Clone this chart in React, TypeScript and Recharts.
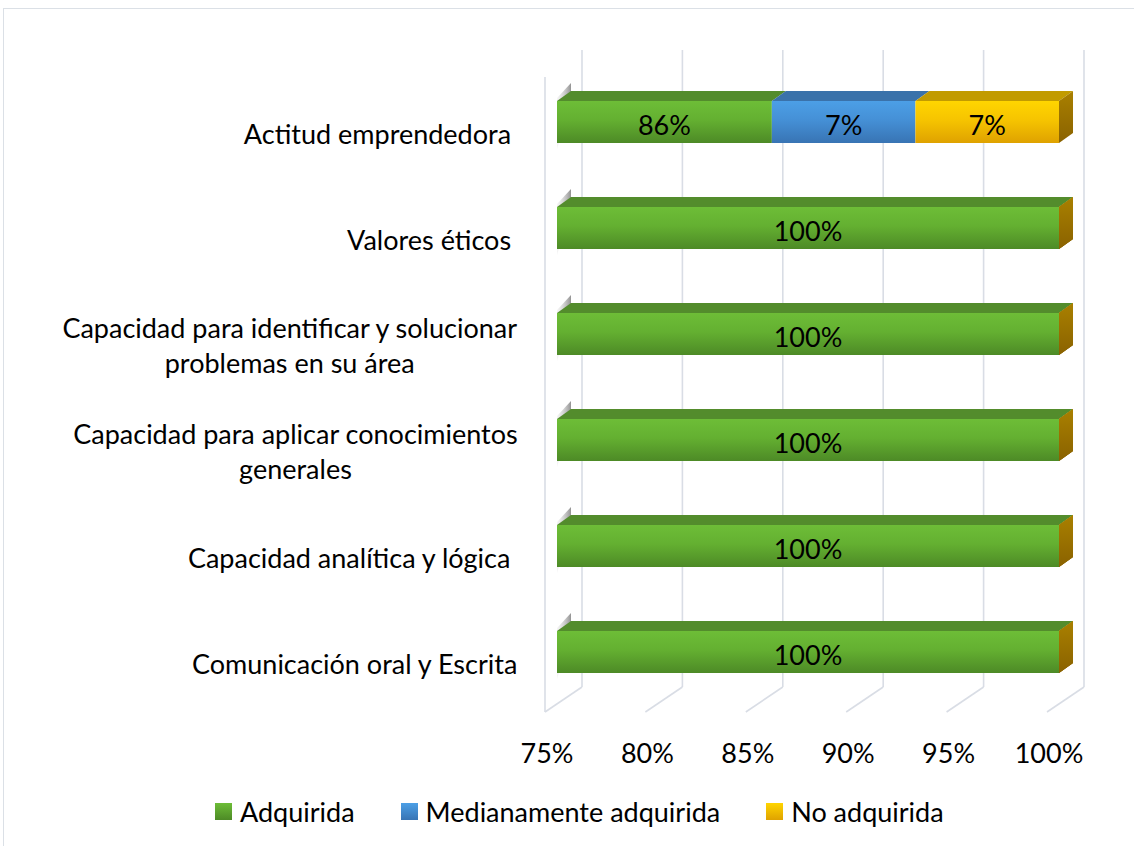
import React from 'react';
import { Bar, BarChart, CartesianGrid, LabelList, Legend, XAxis, YAxis } from 'recharts';

const categories = [
  'Actitud emprendedora ',
  'Valores éticos ',
  'Capacidad para identificar y solucionar\nproblemas en su área',
  'Capacidad para aplicar conocimientos\ngenerales',
  'Capacidad analítica y lógica ',
  'Comunicación oral y Escrita',
];
const adquirida = [0.857, 1, 1, 1, 1, 1];
const medianamente = [0.0715, 0, 0, 0, 0, 0];
const noAdquirida = [0.0715, 0, 0, 0, 0, 0];
const xTicks = [0.75, 0.8, 0.85, 0.9, 0.95, 1];

const series = [
  { key: 'adquirida', name: 'Adquirida', light: '#6dbd37', mid: '#64b031', dark: '#4d8a26', top: '#538c2c' },
  { key: 'medianamente', name: 'Medianamente adquirida', light: '#4c9fe6', mid: '#4590d6', dark: '#3874b4', top: '#3a72aa' },
  { key: 'noAdquirida', name: 'No adquirida', light: '#ffd500', mid: '#f6c400', dark: '#dfa200', top: '#c29b00' },
];

const data = categories.map((name, i) => ({
  name,
  adquirida: adquirida[i],
  medianamente: medianamente[i],
  noAdquirida: noAdquirida[i],
}));

const W = 1134;
const H = 846;
const FONT = 'Lato, "Open Sans", sans-serif';
const FS = 27;
const MARGIN = { top: 69, right: 75, left: 0, bottom: 15 };
const Y_WIDTH = 557;
const PLOT_LEFT = MARGIN.left + Y_WIDTH;
const PLOT_RIGHT = W - MARGIN.right;
const DEPTH_X = 14;
const DEPTH_Y = 10;
const GRID = '#d9dde5';

let ctx: CanvasRenderingContext2D | null = null;
function textWidth(s: string) {
  if (!ctx) ctx = document.createElement('canvas').getContext('2d');
  if (!ctx) return s.length * FS * 0.5;
  ctx.font = `${FS}px Lato`;
  return ctx.measureText(s).width;
}

function CategoryTick(props: any) {
  const { x, y, payload } = props;
  const lines = String(payload.value).split('\n');
  const w = Math.max(...lines.map(textWidth));
  const cx = x - 37 - w / 2;
  return (
    <g>
      {lines.map((line, i) => (
        <text
          key={i}
          x={cx}
          y={y + 11 + (i - (lines.length - 1) / 2) * 35}
          textAnchor="middle"
          dominantBaseline="central"
          fontFamily={FONT}
          fontSize={FS}
          fill="#000"
          style={{ whiteSpace: 'pre' }}
        >
          {line}
        </text>
      ))}
    </g>
  );
}

function PercentTick(props: any) {
  const { x, y, payload } = props;
  return (
    <text x={x - 10} y={y + 45} textAnchor="middle" dominantBaseline="central" fontFamily={FONT} fontSize={FS} fill="#000">
      {Math.round(payload.value * 100)}%
    </text>
  );
}

// back wall line + floor diagonal for every tick, plus the left wall edge
function gridLine(props: any) {
  const { x1, y1, y2, index } = props;
  const bx = x1 + 25;
  const fx = x1 - 12;
  return (
    <g key={`g-${x1}`}>
      <line x1={bx} y1={y1 - 19} x2={bx} y2={y2 - 18} stroke={GRID} strokeWidth={1.6} />
      <line x1={bx} y1={y2 - 18} x2={fx} y2={y2 + 7} stroke={GRID} strokeWidth={1.6} />
      {index === 0 && <line x1={fx} y1={y1 + 8} x2={fx} y2={y2 + 7} stroke={GRID} strokeWidth={1.6} />}
    </g>
  );
}

function Bar3D(props: any) {
  const { x, y, width, height, s } = props;
  const x1 = Math.max(x, PLOT_LEFT);
  const x2 = x + width;
  if (x2 < x1) return null;
  const atEnd = x2 >= PLOT_RIGHT - 0.5;
  const atStart = x <= PLOT_LEFT + 0.5;
  return (
    <g>
      {atStart && x2 > x1 && (
        <polygon
          points={`${x1},${y + height + 6} ${x1},${y - 3} ${x1 + DEPTH_X},${y - DEPTH_Y - 8} ${x1 + DEPTH_X},${y}`}
          fill="url(#shadow3d)"
        />
      )}
      {x2 > x1 && (
        <>
          <polygon
            points={`${x1},${y} ${x1 + DEPTH_X},${y - DEPTH_Y} ${x2 + DEPTH_X},${y - DEPTH_Y} ${x2},${y}`}
            fill={s.top}
          />
          <rect x={x1} y={y} width={x2 - x1} height={height} fill={`url(#front-${s.key})`} />
        </>
      )}
      {atEnd && (
        <polygon
          points={`${x2},${y} ${x2 + DEPTH_X},${y - DEPTH_Y} ${x2 + DEPTH_X},${y + height - DEPTH_Y} ${x2},${y + height}`}
          fill="url(#side3d)"
        />
      )}
    </g>
  );
}

function ValueLabel(props: any) {
  const { x, y, width, height, value } = props;
  if (!value) return null;
  const x1 = Math.max(x, PLOT_LEFT);
  const cx = (x1 + x + width) / 2;
  return (
    <text x={cx} y={y + height / 2 + 2} textAnchor="middle" dominantBaseline="central" fontFamily={FONT} fontSize={FS} fill="#000">
      {Math.round(value * 100)}%
    </text>
  );
}

function LegendContent() {
  return (
    <div style={{ display: 'flex', alignItems: 'center', height: 40, paddingLeft: 215, fontFamily: FONT, fontSize: FS, color: '#000' }}>
      {series.map((s) => (
        <div key={s.key} style={{ display: 'flex', alignItems: 'center', marginRight: 46 }}>
          <span
            style={{
              display: 'inline-block',
              width: 17,
              height: 17,
              marginRight: 8,
              background: `linear-gradient(${s.light}, ${s.dark})`,
            }}
          />
          <span>{s.name}</span>
        </div>
      ))}
    </div>
  );
}

export default function App() {
  return (
    <div style={{ position: 'fixed', left: 0, top: 0, width: W, height: H, overflow: 'hidden', background: '#fff' }}>
      <style>{'.recharts-wrapper svg [clip-path]{clip-path:none !important}'}</style>
      <div style={{ position: 'absolute', left: 3, top: 8, width: 1300, height: 1000, border: '1.5px solid #dbe0e6' }} />
      <div style={{ position: 'absolute', left: 0, top: 0 }}>
        <BarChart width={W} height={H} data={data} layout="vertical" margin={MARGIN} barSize={42}>
          <defs>
            {series.map((s) => (
              <linearGradient key={s.key} id={`front-${s.key}`} x1="0" y1="0" x2="0" y2="1">
                <stop offset="0" stopColor={s.light} />
                <stop offset="0.45" stopColor={s.mid} />
                <stop offset="1" stopColor={s.dark} />
              </linearGradient>
            ))}
            <linearGradient id="side3d" x1="0" y1="0" x2="0" y2="1">
              <stop offset="0" stopColor="#a98000" />
              <stop offset="1" stopColor="#8a6200" />
            </linearGradient>
            <linearGradient id="shadow3d" x1="1" y1="0" x2="0" y2="0">
              <stop offset="0" stopColor="#6e6e6e" stopOpacity={0.75} />
              <stop offset="1" stopColor="#bdbdbd" stopOpacity={0.15} />
            </linearGradient>
          </defs>
          <CartesianGrid horizontal={false} vertical={gridLine} />
          <XAxis
            type="number"
            domain={[0.75, 1]}
            ticks={xTicks}
            allowDataOverflow
            interval={0}
            axisLine={false}
            tickLine={false}
            tickSize={0}
            height={86}
            tick={<PercentTick />}
          />
          <YAxis
            type="category"
            dataKey="name"
            width={Y_WIDTH}
            interval={0}
            axisLine={false}
            tickLine={false}
            tickSize={0}
            tick={<CategoryTick />}
          />
          <Legend verticalAlign="bottom" height={40} content={<LegendContent />} wrapperStyle={{ left: 0, width: W }} />
          {series.map((s) => (
            <Bar
              key={s.key}
              dataKey={s.key}
              name={s.name}
              stackId="a"
              fill={s.light}
              isAnimationActive={false}
              shape={(p: any) => <Bar3D {...p} s={s} />}
            >
              <LabelList dataKey={s.key} content={<ValueLabel />} />
            </Bar>
          ))}
        </BarChart>
      </div>
    </div>
  );
}
